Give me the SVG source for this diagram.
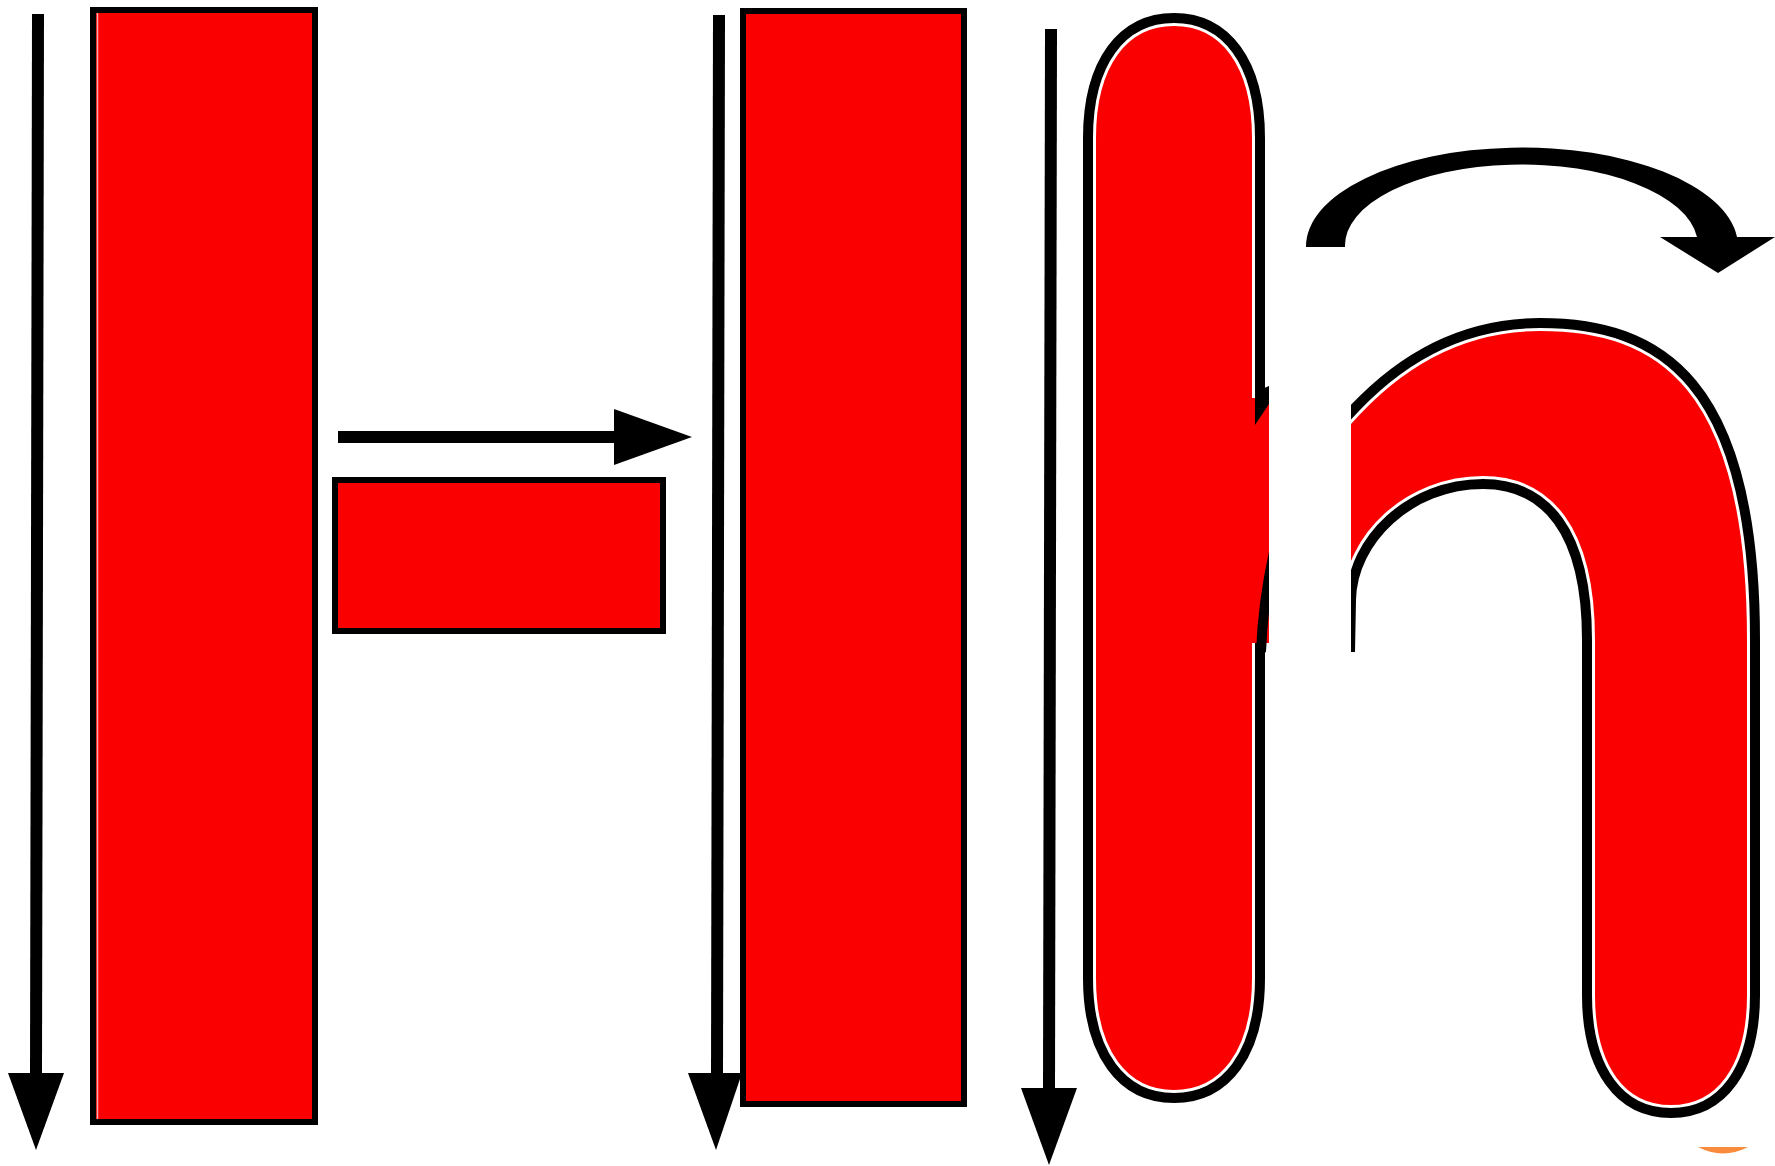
<svg xmlns="http://www.w3.org/2000/svg" xmlns:xlink="http://www.w3.org/1999/xlink" width="1775" height="1166" viewBox="0 0 1775 1166">
<style>
.bar{fill:#fa0000;stroke:#000;stroke-width:6}
.shaft{stroke:#000;stroke-width:12;fill:none}
.head{fill:#000}
.gap{fill:none;stroke:#fff;stroke-width:16}
.outline{fill:none;stroke:#000;stroke-width:10}
.red{fill:#fa0000}
</style>
<defs>
<clipPath id="archClip"><rect x="1351" y="0" width="424" height="1166"/></clipPath>
<clipPath id="stemClip"><rect x="1000" y="0" width="269" height="1166"/></clipPath>
<path id="stemShape" d="M1088,138 C1088,62 1122,18 1174,18 C1226,18 1260,62 1260,138 L1260,978 C1260,1054 1226,1098 1174,1098 C1122,1098 1088,1054 1088,978 Z"/>
<path id="archOpen" d="M1330,437 C1390,360 1460,323 1540,323 C1660,323 1755,380 1755,640 L1755,995 C1755,1070 1722,1113 1671,1113 C1620,1113 1587,1070 1587,995 L1587,640 C1587,530 1545,484 1483,484 C1410,484 1352,540 1351,600 L1350,652"/>
</defs>
<rect width="1775" height="1166" fill="#fff"/>

<g id="stroke1-bar">
<rect class="bar" x="93" y="10" width="222" height="1112"/>
<line x1="97.5" y1="13" x2="97.5" y2="1119" stroke="#e8b0b0" stroke-width="1.5"/>
</g>
<g id="stroke2-bar">
<rect class="bar" x="335" y="480" width="328" height="151" stroke="#111"/>
</g>
<g id="stroke3-bar">
<rect class="bar" x="743" y="11" width="221" height="1093"/>
</g>

<g id="h-stem">
<use xlink:href="#stemShape" href="#stemShape" class="red"/>
<use xlink:href="#stemShape" href="#stemShape" class="gap"/>
<use xlink:href="#stemShape" href="#stemShape" class="outline"/>
<g clip-path="url(#stemClip)">
<rect x="1252" y="398" width="17" height="245" fill="#fa0000"/>
<polygon points="1255,392 1269,386 1269,404 1255,425" fill="#000"/>
<path d="M1275,548 Q1263,600 1261,652" fill="none" stroke="#000" stroke-width="10"/>
</g>
</g>

<g id="h-arch" clip-path="url(#archClip)">
<path class="red" d="M1330,437 C1390,360 1460,323 1540,323 C1660,323 1755,380 1755,640 L1755,995 C1755,1070 1722,1113 1671,1113 C1620,1113 1587,1070 1587,995 L1587,640 C1587,530 1545,484 1483,484 C1410,484 1352,540 1351,600 L1350,652 L1300,652 Z"/>
<use xlink:href="#archOpen" href="#archOpen" class="gap"/>
<use xlink:href="#archOpen" href="#archOpen" class="outline"/>
</g>

<g id="mark">
<path d="M1698,1147 L1748,1147 Q1723,1160 1698,1147 Z" fill="#f98c3c"/>
</g>

<g id="connectors">
<g id="arrow1">
<line class="shaft" x1="38" y1="14" x2="36" y2="1075"/>
<polygon class="head" points="8,1073 64,1073 36,1150"/>
</g>
<g id="arrow2">
<line class="shaft" x1="338" y1="437" x2="620" y2="437"/>
<polygon class="head" points="614,409 692,437 614,465"/>
</g>
<g id="arrow3">
<line class="shaft" x1="719" y1="15" x2="717" y2="1075"/>
<polygon class="head" points="688,1073 742,1073 716,1150"/>
</g>
<g id="arrow4">
<line class="shaft" x1="1051" y1="29" x2="1049" y2="1090"/>
<polygon class="head" points="1021,1088 1077,1088 1049,1165"/>
</g>
<g id="arrow5">
<path class="head" d="M1306,247 A216,99 0 0 1 1737,237 L1775,237 L1718,273 L1660,237 L1697,237 A176.5,81 0 0 0 1345,247 Z"/>
</g>
</g>
</svg>
